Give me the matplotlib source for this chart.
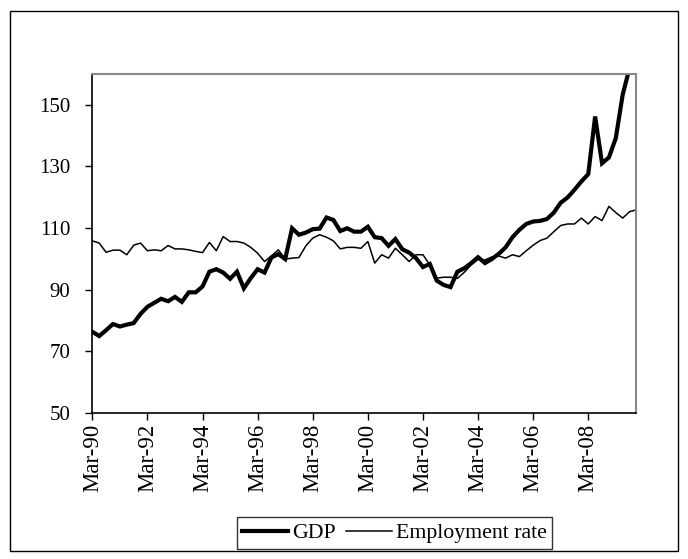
import matplotlib
matplotlib.use('Agg')
import matplotlib.pyplot as plt
from matplotlib.patches import Rectangle

plt.rcParams['font.family'] = ['Liberation Serif', 'DejaVu Serif']

# quarterly index values, Mar-90 .. Dec-09
gdp = [76.3, 74.9, 76.8, 78.8, 78.0, 78.6, 79.1, 82.1, 84.4, 85.7,
       87.0, 86.2, 87.6, 86.0, 89.1, 89.1, 91.0, 95.8, 96.6, 95.5,
       93.5, 95.8, 90.4, 93.7, 96.6, 95.5, 100.4, 101.5, 99.9, 109.9,
       107.8, 108.5, 109.6, 109.8, 113.4, 112.6, 109.0, 109.9, 108.8, 108.8,
       110.4, 107.0, 106.7, 104.2, 106.4, 103.1, 102.0, 100.2, 97.3, 98.3,
       92.9, 91.5, 90.8, 95.8, 96.9, 98.6, 100.5, 98.6, 99.9, 101.6,
       103.7, 107.0, 109.4, 111.3, 112.1, 112.3, 112.9, 115.0, 118.2, 119.9,
       122.4, 125.1, 127.5, 146.2, 131.0, 132.9, 139.2, 153.3, 162.0, 168.0]

employment = [105.8, 105.1, 102.1, 102.8, 102.8, 101.3, 104.4, 105.1, 102.6, 102.9,
              102.6, 104.3, 103.2, 103.2, 102.9, 102.4, 102.0, 105.3, 102.6, 107.2,
              105.6, 105.6, 105.1, 103.7, 101.8, 99.1, 100.9, 102.9, 99.9, 100.2,
              100.4, 104.2, 106.7, 107.8, 107.0, 105.8, 103.2, 103.7, 103.7, 103.4,
              105.6, 98.6, 101.3, 100.2, 103.4, 101.3, 99.1, 101.3, 101.3, 98.0,
              93.7, 94.0, 94.0, 93.6, 95.6, 98.0, 99.8, 99.6, 100.6, 100.9,
              100.2, 101.3, 100.7, 102.6, 104.4, 105.9, 106.7, 108.8, 110.8, 111.3,
              111.3, 113.2, 111.3, 113.7, 112.4, 117.0, 115.0, 113.2, 115.3, 115.9]

tick_labels = ['Mar-90', 'Mar-92', 'Mar-94', 'Mar-96', 'Mar-98',
               'Mar-00', 'Mar-02', 'Mar-04', 'Mar-06', 'Mar-08']
y_ticks = [50, 70, 90, 110, 130, 150]

fig = plt.figure(figsize=(6.88, 5.59), dpi=100)
ax = fig.add_axes([0.1342, 0.2617, 0.7909, 0.6059])

x = list(range(len(gdp)))
ax.plot(x, gdp, color='black', lw=3.0, label='GDP', solid_joinstyle='miter')
ax.plot(x, employment, color='black', lw=1.1, label='Employment rate')

ax.set_xlim(0, len(gdp) - 1)
ax.set_ylim(50, 160)
ax.set_yticks(y_ticks)
ax.set_xticks(range(0, 80, 8))
ax.set_xticklabels(tick_labels, rotation=90, fontsize=16.5)
ax.tick_params(axis='y', labelsize=15, direction='out', length=5, width=1, pad=11)
ax.tick_params(axis='x', direction='out', length=5, width=1, pad=3)

for side in ['left', 'bottom']:
    ax.spines[side].set_color('black')
    ax.spines[side].set_linewidth(1.2)
for side in ['top', 'right']:
    ax.spines[side].set_color('#888888')
    ax.spines[side].set_linewidth(1.5)

leg = ax.legend(loc='center', bbox_to_anchor=(0.5734, 0.0465), bbox_transform=fig.transFigure,
                ncol=2, frameon=True, fancybox=False, fontsize=15.7, handlelength=2.1,
                handletextpad=0.2, columnspacing=0.45, borderpad=0.25)
leg.get_frame().set_edgecolor('black')
leg.get_frame().set_linewidth(1.0)

fig.patches.append(Rectangle((10 / 688, 8 / 559), 668 / 688, 540 / 559, transform=fig.transFigure,
                             fill=False, edgecolor='black', lw=1.0))

fig.savefig('out.png', dpi=100)
